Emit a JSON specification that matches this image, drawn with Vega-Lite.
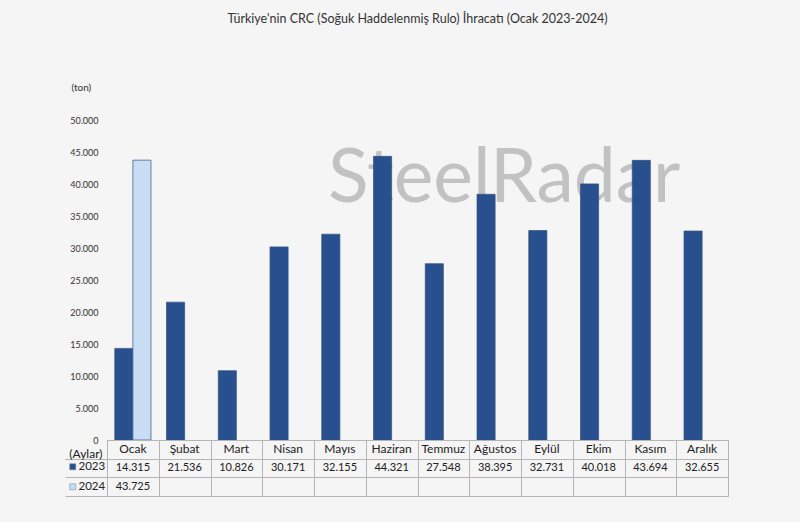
{
  "$schema": "https://vega.github.io/schema/vega-lite/v6.json",
  "background": "#f5f5f5",
  "padding": {"left": 64, "top": 12, "right": 73, "bottom": 26},
  "title": {"text": "Türkiye'nin CRC (Soğuk Haddelenmiş Rulo) İhracatı (Ocak 2023-2024)", "fontSize": 12.5, "fontWeight": "normal", "color": "#333333", "offset": 57, "anchor": "middle", "frame": "group"},
  "config": {
    "font": "Lato",
    "view": {"stroke": null},
    "locale": {"number": {"decimal": ",", "thousands": ".", "grouping": [3], "currency": ["", ""]}}
  },
  "datasets": {
    "ihr": [
      {"ay": "Ocak", "yil": "2023", "ton": 14315},
      {"ay": "Ocak", "yil": "2024", "ton": 43725},
      {"ay": "Şubat", "yil": "2023", "ton": 21536},
      {"ay": "Mart", "yil": "2023", "ton": 10826},
      {"ay": "Nisan", "yil": "2023", "ton": 30171},
      {"ay": "Mayıs", "yil": "2023", "ton": 32155},
      {"ay": "Haziran", "yil": "2023", "ton": 44321},
      {"ay": "Temmuz", "yil": "2023", "ton": 27548},
      {"ay": "Ağustos", "yil": "2023", "ton": 38395},
      {"ay": "Eylül", "yil": "2023", "ton": 32731},
      {"ay": "Ekim", "yil": "2023", "ton": 40018},
      {"ay": "Kasım", "yil": "2023", "ton": 43694},
      {"ay": "Aralık", "yil": "2023", "ton": 32655}
    ]
  },
  "bounds": "flush",
  "spacing": 0,
  "resolve": {"scale": {"x": "independent", "y": "independent"}},
  "vconcat": [
    {
      "width": 621,
      "height": 320,
      "data": {"name": "ihr"},
      "layer": [
        {
          "transform": [{"filter": "datum.ay === 'Ağustos'"}],
          "mark": {"type": "text", "text": "SteelRadar", "fontSize": 75, "color": "#c2c2c2", "align": "center", "baseline": "alphabetic"},
          "encoding": {
            "x": {"field": "ay", "type": "nominal", "sort": ["Ocak", "Şubat", "Mart", "Nisan", "Mayıs", "Haziran", "Temmuz", "Ağustos", "Eylül", "Ekim", "Kasım", "Aralık"], "scale": {"paddingInner": 0.3, "paddingOuter": 0.15}, "axis": null},
            "xOffset": {"datum": "2024", "type": "nominal", "scale": {"domain": ["2023", "2024"]}},
            "y": {"datum": 37200, "type": "quantitative", "scale": {"domain": [0, 50000]},
              "axis": {"title": "(ton)", "titleAngle": 0, "titleAlign": "left", "titleX": -36, "titleY": -33, "titleBaseline": "middle", "titleFontSize": 10, "titleFontWeight": "normal", "titleColor": "#333333",
                "values": [0, 5000, 10000, 15000, 20000, 25000, 30000, 35000, 40000, 45000, 50000], "format": ",.0f", "labelFontSize": 9, "labelColor": "#333333", "ticks": false, "domain": false, "grid": false, "labelPadding": 9}}
          }
        },
        {
          "mark": {"type": "bar", "stroke": "#33507c", "strokeWidth": 0.7},
          "encoding": {
            "x": {"field": "ay", "type": "nominal", "sort": ["Ocak", "Şubat", "Mart", "Nisan", "Mayıs", "Haziran", "Temmuz", "Ağustos", "Eylül", "Ekim", "Kasım", "Aralık"], "scale": {"paddingInner": 0.3, "paddingOuter": 0.15}, "axis": null},
            "xOffset": {"field": "yil", "type": "nominal", "scale": {"domain": ["2023", "2024"]}},
            "y": {"field": "ton", "type": "quantitative", "scale": {"domain": [0, 50000]},
              "axis": {"title": "(ton)", "titleAngle": 0, "titleAlign": "left", "titleX": -36, "titleY": -33, "titleBaseline": "middle", "titleFontSize": 10, "titleFontWeight": "normal", "titleColor": "#333333",
                "values": [0, 5000, 10000, 15000, 20000, 25000, 30000, 35000, 40000, 45000, 50000], "format": ",.0f", "labelFontSize": 9, "labelColor": "#333333", "ticks": false, "domain": false, "grid": false, "labelPadding": 9}},
            "color": {"field": "yil", "type": "nominal", "scale": {"domain": ["2023", "2024"], "range": ["#28508e", "#c9ddf4"]},
              "legend": {"orient": "none", "legendX": -40, "legendY": 341, "title": null, "symbolType": "square", "symbolSize": 36, "labelFontSize": 11.5, "labelColor": "#222222", "rowPadding": 7, "labelOffset": 0, "symbolStrokeColor": "#6d7f99", "symbolStrokeWidth": 0.5, "padding": 0, "symbolOpacity": 1}}
          }
        }
      ]
    },
    {
      "width": 621,
      "height": 56,
      "data": {"name": "ihr"},
      "view": {"stroke": "#b5b5b5"},
      "layer": [
        {
          "transform": [{"filter": "datum.yil === '2023'"}],
          "mark": {"type": "text", "fontSize": 12, "color": "#222222"},
          "encoding": {
            "x": {"field": "ay", "type": "nominal", "sort": ["Ocak", "Şubat", "Mart", "Nisan", "Mayıs", "Haziran", "Temmuz", "Ağustos", "Eylül", "Ekim", "Kasım", "Aralık"], "scale": {"paddingInner": 0, "paddingOuter": 0},
              "axis": {"orient": "top", "labels": false, "ticks": false, "domain": false, "grid": true, "gridColor": "#b5b5b5", "gridWidth": 1, "tickBand": "extent", "title": null}},
            "y": {"datum": "(Aylar)", "type": "nominal", "scale": {"domain": ["(Aylar)", "2023", "2024"], "paddingInner": 0, "paddingOuter": 0},
              "axis": {"orient": "left", "title": null, "domain": false, "grid": true, "gridColor": "#b5b5b5", "ticks": true, "tickSize": 42, "tickColor": {"condition": {"test": "datum.extra", "value": "transparent"}, "value": "#b5b5b5"}, "tickBand": "extent", "labelPadding": -37, "labelOffset": 4, "labelExpr": "datum.value === '(Aylar)' ? datum.value : ''", "labelFontSize": 12, "labelColor": "#222222", "labelBaseline": "middle"}},
            "text": {"field": "ay"}
          }
        },
        {
          "mark": {"type": "text", "fontSize": 11, "color": "#222222"},
          "encoding": {
            "x": {"field": "ay", "type": "nominal", "sort": ["Ocak", "Şubat", "Mart", "Nisan", "Mayıs", "Haziran", "Temmuz", "Ağustos", "Eylül", "Ekim", "Kasım", "Aralık"], "scale": {"paddingInner": 0, "paddingOuter": 0},
              "axis": {"orient": "top", "labels": false, "ticks": false, "domain": false, "grid": true, "gridColor": "#b5b5b5", "gridWidth": 1, "tickBand": "extent", "title": null}},
            "y": {"field": "yil", "type": "nominal", "scale": {"domain": ["(Aylar)", "2023", "2024"], "paddingInner": 0, "paddingOuter": 0},
              "axis": {"orient": "left", "title": null, "domain": false, "grid": true, "gridColor": "#b5b5b5", "ticks": true, "tickSize": 42, "tickColor": {"condition": {"test": "datum.extra", "value": "transparent"}, "value": "#b5b5b5"}, "tickBand": "extent", "labelPadding": -37, "labelOffset": 4, "labelExpr": "datum.value === '(Aylar)' ? datum.value : ''", "labelFontSize": 12, "labelColor": "#222222", "labelBaseline": "middle"}},
            "text": {"field": "ton", "type": "quantitative", "format": ",.0f"}
          }
        }
      ]
    }
  ]
}
